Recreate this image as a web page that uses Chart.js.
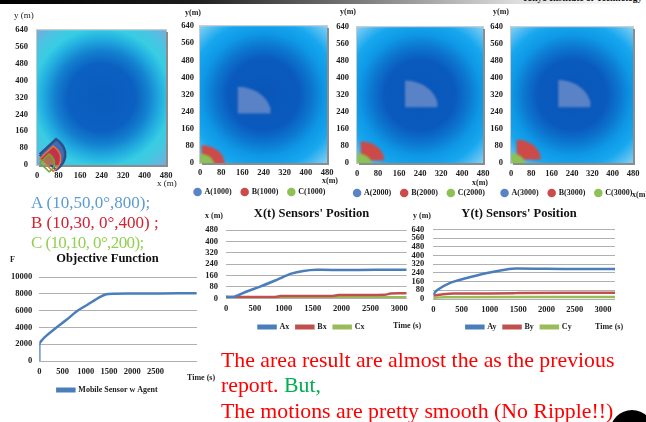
<!DOCTYPE html>
<html>
<head>
<meta charset="utf-8">
<script src="https://cdn.jsdelivr.net/npm/chart.js@4.4.1/dist/chart.umd.min.js"></script>
<style>
body { margin: 0; width: 646px; height: 422px; overflow: hidden; background: #fff; position: relative; font-family: "Liberation Serif", "Times New Roman", serif; }
canvas { position: absolute; }
.t { position: absolute; white-space: nowrap; line-height: 1; }
.ax { font-size: 8px; font-weight: bold; color: #222; }
#bar { position: absolute; left: 0; top: 0; width: 646px; height: 4px; background: linear-gradient(to right, #000 0%, #1e1e1e 30%, #6c6c6c 52%, #dedede 80%, #fff 100%); }
#inst { left: 522px; top: -6px; font-size: 9.5px; font-weight: bold; color: #111; }
#abc { position: absolute; left: 31px; top: 193px; font-size: 17px; line-height: 20px; white-space: nowrap; }
#note { position: absolute; left: 221px; top: 347.5px; font-size: 21.8px; line-height: 25.8px; color: #ff0000; white-space: nowrap; }
#dot { position: absolute; left: 610px; top: 410px; width: 44px; height: 44px; border-radius: 50%; background: #000; }
</style>
</head>
<body>
<div id="bar"></div>
<div class="t" id="inst">Tokyo Institute of Technology</div>

<canvas id="map0" width="180" height="165" style="left:0px;top:16px"></canvas>
<canvas id="map1" width="164" height="191" style="left:178px;top:15px"></canvas>
<canvas id="map2" width="169" height="193" style="left:335px;top:14px"></canvas>
<canvas id="map3" width="158" height="193" style="left:488px;top:14px"></canvas>
<canvas id="objChart" width="215" height="156" style="left:0px;top:248px"></canvas>
<canvas id="xChart" width="223" height="138" style="left:200px;top:203px"></canvas>
<canvas id="yChart" width="218" height="138" style="left:410px;top:203px"></canvas>

<div class="t" style="left:14px;top:10.7px;font-size:9px;color:#222">y (m)</div>
<div class="t" style="left:157px;top:178.5px;font-size:9px;color:#222">x (m)</div>
<div class="t ax" style="left:185px;top:8.6px">y(m)</div>
<div class="t ax" style="left:322px;top:177px">x(m)</div>
<div class="t ax" style="left:340px;top:8px">y(m)</div>
<div class="t ax" style="left:472px;top:179px">x(m)</div>
<div class="t ax" style="left:493px;top:8px">y(m)</div>
<div class="t ax" style="left:632px;top:191px">x(m)</div>
<div class="t ax" style="left:205px;top:212.3px">x (m)</div>
<div class="t ax" style="left:413px;top:212px">y (m)</div>
<div class="t ax" style="left:10px;top:256px">F</div>
<div class="t ax" style="left:187px;top:373.6px">Time (s)</div>
<div class="t ax" style="left:393px;top:322px">Time (s)</div>
<div class="t ax" style="left:595px;top:322.5px">Time (s)</div>

<div id="abc">
<div style="color:#5b9bd5">A (10,50,0°,800);</div>
<div style="color:#d42030">B (10,30, 0°,400) ;</div>
<div style="color:#92d050;letter-spacing:-0.6px">C (10,10, 0°,200);</div>
</div>

<div id="note">The area result are almost the as the previous<br>report. <span style="color:#00b050">But,</span><br>The motions are pretty smooth (No Ripple!!)</div>
<div id="dot"></div>

<script>
// coverage maps at t = 0, 1000, 2000, 3000 s
const snapTimes = ['0', '1000', '2000', '3000'];
const sensorNames = ['A', 'B', 'C'];
const mapTicksX = [0, 80, 160, 240, 320, 400, 480];
const mapTicksY = [0, 80, 160, 240, 320, 400, 480, 560, 640];
// sensor sector per map: apex (m), heading and half angle (deg), range (m)
const posAx = [10, 143, 183, 186];
const posAy = [50, 231, 263, 263];
const posBx = [10, 6, 14, 22];
const posBy = [30, -5, 12, 15];
const posCx = [10, 0, 0, 0];
const posCy = [10, -12, -12, -12];
const rangeA = [95, 125, 125, 128];
const rangeB = [78, 88, 90, 95];
const rangeC = [55, 55, 58, 58];
const mapHead = [0, 45, 45, 45];
const mapSpread = [50, 45, 45, 45];

// time axis labels (s)
const timeTicks = [0, 500, 1000, 1500, 2000, 2500, 3000];
const objTimeTicks = [0, 500, 1000, 1500, 2000, 2500];

// objective function
const tObj = [0, 0, 60, 160, 335, 585, 800, 1050, 1300, 1440, 1600, 2000, 2600, 3380];
const objF = [0, 2000, 2500, 3050, 3850, 4900, 5900, 6750, 7600, 7950, 8020, 8040, 8050, 8060];

// X(t) sensors' position
const tAx = [0, 150, 360, 590, 880, 1130, 1340, 1570, 2000, 2600, 3128];
const Ax = [10, 12, 48, 82, 130, 173, 192, 200, 199, 200, 200];
const tBx = [0, 850, 950, 1850, 1950, 2750, 2850, 3128];
const Bx = [10, 10, 16, 17, 23, 25, 34, 35];
const tCx = [0, 3128];
const Cx = [7, 7];

// Y(t) sensors' position
const tAy = [0, 70, 280, 575, 930, 1340, 1460, 2000, 2600, 3213];
const Ay = [40, 83, 144, 190, 236, 276, 280, 277, 276, 276];
const tBy = [0, 150, 350, 1400, 1500, 3213];
const By = [32, 42, 50, 52, 56, 57];
const tCy = [0, 200, 3213];
const Cy = [10, 17, 18];

Chart.defaults.font.family = '"Liberation Serif", "Times New Roman", serif';
Chart.defaults.font.weight = 'bold';
Chart.defaults.font.size = 9;
Chart.defaults.color = '#202020';
Chart.defaults.animation = false;
Chart.defaults.events = [];
Chart.defaults.responsive = false;
Chart.defaults.devicePixelRatio = 1;

function pts(xs, ys) {
  return xs.map((x, i) => ({x: x, y: ys[i]}));
}

// closed outline of a sensing sector
function sector(cx, cy, head, spread, r) {
  const out = [{x: cx, y: cy}];
  for (let i = 0; i <= 16; i++) {
    const a = (head - spread + spread * i / 8) * Math.PI / 180;
    out.push({x: cx + r * Math.cos(a), y: cy + r * Math.sin(a)});
  }
  out.push({x: cx, y: cy});
  return out;
}

const fieldBg = {
  id: 'fieldBg',
  beforeDatasetsDraw(chart, args, opts) {
    const {ctx, chartArea: a} = chart;
    const cx = (a.left + a.right) / 2, cy = (a.top + a.bottom) / 2;
    const g = ctx.createRadialGradient(cx, cy, 0, cx, cy, Math.hypot(a.width, a.height) / 2);
    opts.stops.forEach(s => g.addColorStop(s[0], s[1]));
    ctx.save();
    ctx.fillStyle = g;
    ctx.fillRect(a.left, a.top, a.width, a.height);
    ctx.strokeStyle = '#c8c8c8';
    ctx.lineWidth = 1;
    ctx.strokeRect(a.left - 0.5, a.top - 0.5, a.width + 1, a.height + 1);
    ctx.strokeStyle = '#8c8c8c';
    ctx.lineWidth = 2;
    ctx.beginPath();
    ctx.moveTo(a.right + 1, a.top + 2);
    ctx.lineTo(a.right + 1, a.bottom + 1);
    ctx.lineTo(a.left + 2, a.bottom + 1);
    ctx.stroke();
    ctx.restore();
    if (opts.blur) {
      ctx.save();
      ctx.filter = 'blur(' + opts.blur + 'px)';
    }
  },
  afterDatasetsDraw(chart, args, opts) {
    if (opts.blur) chart.ctx.restore();
  }
};

const fieldStops = [
  [[0, '#0a5cbc'], [0.36, '#0b60c1'], [0.5, '#1380cf'], [0.63, '#22ade0'], [0.74, '#37cde3'], [0.87, '#4cc3e2'], [1, '#7aaad8']],
  [[0, '#0956b8'], [0.38, '#0a5abe'], [0.52, '#0c76cf'], [0.66, '#0e98e6'], [0.8, '#18a8ef'], [1, '#86cff3']]
];

function mapChart(id, k, wy, padR, xh, yPad, xPad) {
  const first = k === 0;
  const pos = [[posAx, posAy, rangeA], [posBx, posBy, rangeB], [posCx, posCy, rangeC]];
  const fills = first ? ['#3f6db0', '#c73049', 'rgba(141,193,83,0.45)'] : ['#5a82c6', '#cc4a48', '#8cc153'];
  const borders = first ? ['#2c4f8c', '#e2733a', '#6aa83a'] : ['#5a82c6', '#cc4a48', '#8cc153'];
  const widths = first ? [2.5, 1.5, 1.5] : [0, 0, 0];
  const datasets = pos.map((p, i) => ({
    label: sensorNames[i] + '(' + snapTimes[k] + ')',
    data: sector(p[0][k], p[1][k], mapHead[k], mapSpread[k], p[2][k]),
    showLine: true,
    fill: 'shape',
    tension: 0,
    pointRadius: 0,
    clip: false,
    order: 3 - i,
    backgroundColor: fills[i],
    borderColor: borders[i],
    borderWidth: widths[i]
  }));
  new Chart(document.getElementById(id), {
    type: 'scatter',
    data: {datasets: datasets},
    plugins: [fieldBg],
    options: {
      layout: {padding: {top: 10}},
      plugins: {
        legend: {
          display: !first,
          position: 'bottom',
          labels: {usePointStyle: true, boxWidth: 6, boxHeight: 6, padding: 10, font: {size: 8},
                   sort: (a, b) => a.datasetIndex - b.datasetIndex}
        },
        tooltip: {enabled: false},
        fieldBg: {stops: fieldStops[first ? 0 : 1], blur: first ? 0 : 1.2}
      },
      scales: {
        x: {
          type: 'linear', min: mapTicksX[0], max: mapTicksX[mapTicksX.length - 1],
          grid: {display: false, drawTicks: false}, border: {display: false},
          ticks: {padding: xPad, font: {size: 8.5}, autoSkip: false, maxRotation: 0},
          afterBuildTicks: s => { s.ticks = mapTicksX.map(v => ({value: v})); },
          afterFit: s => { s.height = xh; }
        },
        y: {
          type: 'linear', min: mapTicksY[0], max: mapTicksY[mapTicksY.length - 1],
          grid: {display: false, drawTicks: false}, border: {display: false},
          ticks: {padding: yPad, font: {size: 8.5}, autoSkip: false},
          afterBuildTicks: s => { s.ticks = mapTicksY.map(v => ({value: v})); },
          afterFit: s => { s.width = wy; }
        },
        pad: {
          type: 'linear', position: 'right', grid: {display: false, drawTicks: false}, border: {display: false},
          ticks: {display: false}, afterFit: s => { s.width = padR; }
        }
      }
    }
  });
}

mapChart('map0', 0, 37, 14, 16, 9, 5.5);
mapChart('map1', 1, 22, 15, 15, 6, 4.5);
mapChart('map2', 2, 22, 21, 16, 8, 5.5);
mapChart('map3', 3, 23, 13, 16, 8, 5.5);

function lineSet(label, xs, ys, color) {
  return {
    label: label,
    data: pts(xs, ys),
    showLine: true,
    borderColor: color,
    backgroundColor: color,
    borderWidth: 2.5,
    pointRadius: 0,
    tension: 0.3,
    fill: false
  };
}

function lineChart(id, title, datasets, cfg) {
  new Chart(document.getElementById(id), {
    type: 'scatter',
    data: {datasets: datasets},
    options: {
      plugins: {
        title: {display: true, text: title, font: {size: 12.5}, color: '#111', padding: {top: 3, bottom: cfg.titleGap}},
        legend: {position: 'bottom', labels: {boxWidth: 17, boxHeight: 2.5, padding: 7, font: {size: 8}}},
        tooltip: {enabled: false}
      },
      scales: {
        x: {
          type: 'linear', min: 0, max: cfg.xMax,
          grid: {display: false, drawTicks: false}, border: {display: false},
          ticks: {padding: cfg.xPad, font: {size: 8.5}, autoSkip: false, maxRotation: 0, callback: v => String(v)},
          afterBuildTicks: s => { s.ticks = cfg.xTicks.map(v => ({value: v})); },
          afterFit: s => { s.height = cfg.xh; }
        },
        y: {
          type: 'linear', min: 0, max: cfg.yMax,
          grid: {color: '#b0b0b0', lineWidth: 1, drawTicks: false}, border: {display: false},
          ticks: {stepSize: cfg.yStep, padding: cfg.yPad, font: {size: 8.5}, autoSkip: false, callback: v => String(v)},
          afterFit: s => { s.width = cfg.wy; }
        },
        pad: {
          type: 'linear', position: 'right', grid: {display: false, drawTicks: false}, border: {display: false},
          ticks: {display: false}, afterFit: s => { s.width = cfg.padR; }
        }
      }
    }
  });
}

lineChart('objChart', 'Objective Function',
  [lineSet('Mobile Sensor w Agent', tObj, objF, '#4a7ebb')],
  {xMax: 3390, xTicks: objTimeTicks, yMax: 10000, yStep: 2000, wy: 39.3, padR: 18, xh: 18, xPad: 5.5, yPad: 7, titleGap: 11});

lineChart('xChart', "X(t) Sensors' Position",
  [lineSet('Ax', tAx, Ax, '#4a7ebb'), lineSet('Bx', tBx, Bx, '#c0504d'), lineSet('Cx', tCx, Cx, '#9bbb59')],
  {xMax: 3128, xTicks: timeTicks, yMax: 480, yStep: 80, wy: 26, padR: 16.3, xh: 17.7, xPad: 5.5, yPad: 8, titleGap: 9});

lineChart('yChart', "Y(t) Sensors' Position",
  [lineSet('Ay', tAy, Ay, '#4a7ebb'), lineSet('By', tBy, By, '#c0504d'), lineSet('Cy', tCy, Cy, '#9bbb59')],
  {xMax: 3213, xTicks: timeTicks, yMax: 640, yStep: 80, wy: 23.3, padR: 13, xh: 17, xPad: 5.5, yPad: 9, titleGap: 8.3});
</script>
</body>
</html>
